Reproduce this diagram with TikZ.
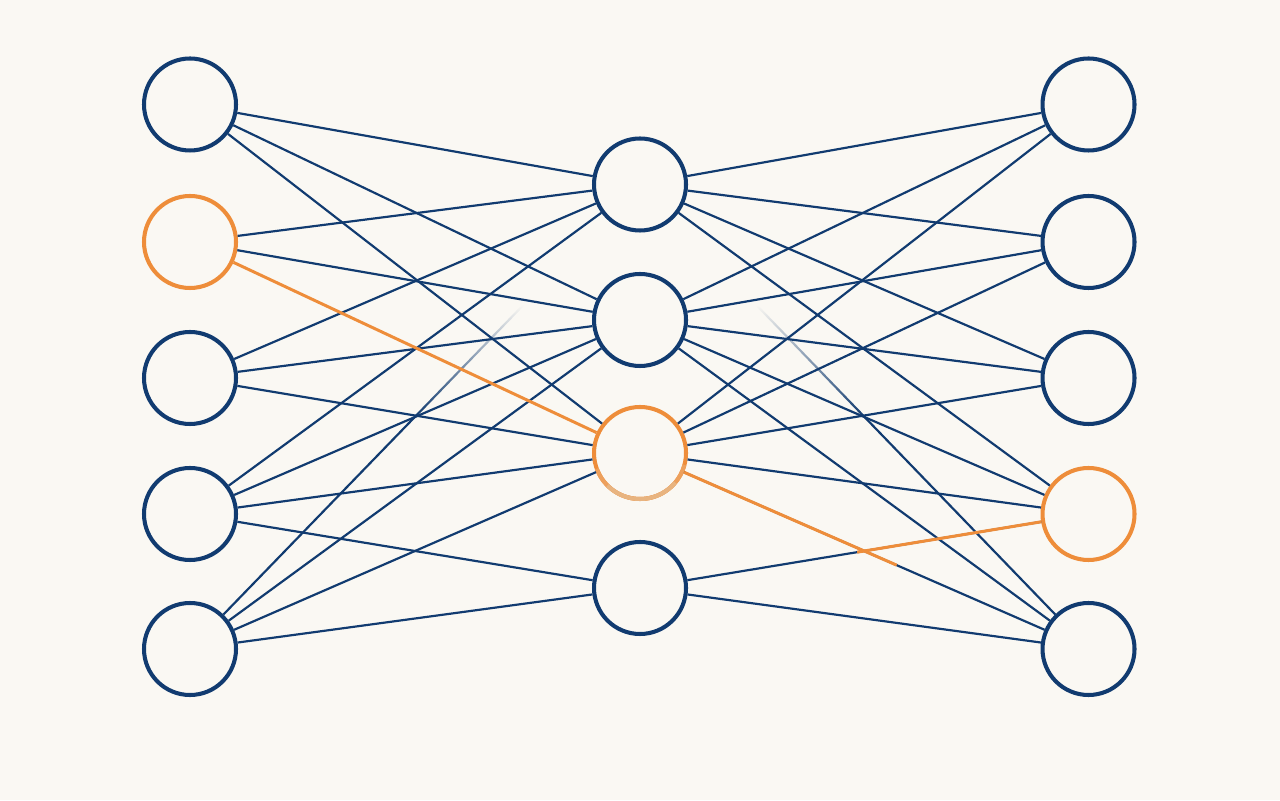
\documentclass[tikz,border=0pt]{standalone}
\usepackage{tikz}
\usetikzlibrary{fadings}
\definecolor{paper}{RGB}{250,248,243}
\definecolor{navy}{RGB}{17,59,112}
\definecolor{flame}{RGB}{238,141,58}
\definecolor{ember}{RGB}{237,160,92}
\definecolor{sand}{RGB}{232,180,128}
\pgfdeclareverticalshading{fadeshade}{100bp}{color(0bp)=(pgftransparent!0); color(50bp)=(pgftransparent!0); color(64bp)=(pgftransparent!100); color(100bp)=(pgftransparent!100)}
\pgfdeclarefading{fadeup}{\pgfuseshading{fadeshade}}

\begin{document}
\begin{tikzpicture}[neuron/.style={circle, draw=navy, line width=1.15pt, fill=paper, minimum size=0.92cm, inner sep=0pt},
                    hotneuron/.style={neuron, draw=flame},
                    link/.style={navy, line width=0.62pt},
                    hot/.style={flame, line width=0.85pt}]
                      \fill[paper] (0,0) rectangle (12.8,8);
                      % input layer
                      \node[neuron] (l1) at (1.90,6.955) {};
                      \node[hotneuron] (l2) at (1.90,5.58) {};
                      \node[neuron] (l3) at (1.90,4.22) {};
                      \node[neuron] (l4) at (1.90,2.86) {};
                      \node[neuron] (l5) at (1.90,1.51) {};
                      % hidden layer
                      \node[neuron] (m1) at (6.40,6.155) {};
                      \node[neuron] (m2) at (6.40,4.80) {};
                      \node[hotneuron] (m3) at (6.40,3.47) {};
                      \node[neuron] (m4) at (6.40,2.12) {};
                      % output layer
                      \node[neuron] (r1) at (10.885,6.955) {};
                      \node[neuron] (r2) at (10.885,5.58) {};
                      \node[neuron] (r3) at (10.885,4.22) {};
                      \node[hotneuron] (r4) at (10.885,2.86) {};
                      \node[neuron] (r5) at (10.885,1.51) {};
                      \draw[ember, line width=1.15pt] ([shift={(200:0.46)}]m3.center) arc[start angle=200, end angle=345, radius=0.46];
                      \draw[sand, line width=1.15pt] ([shift={(225:0.46)}]m3.center) arc[start angle=225, end angle=320, radius=0.46];
                      % weights in
                      \draw[link] (l1) -- (m1) (l1) -- (m2) (l1) -- (m3);
                      \draw[link] (l2) -- (m1) (l2) -- (m2);
                      \draw[link] (l3) -- (m1) (l3) -- (m2) (l3) -- (m3);
                      \draw[link] (l4) -- (m1) (l4) -- (m2) (l4) -- (m3) (l4) -- (m4);
                      \draw[link] (l5) -- (m2) (l5) -- (m3) (l5) -- (m4);
                      \draw[link, path fading=fadeup] (l5) -- (m1);
                      % weights out
                      \draw[link] (m1) -- (r1) (m1) -- (r2) (m1) -- (r3) (m1) -- (r4);
                      \draw[link, path fading=fadeup] (m1) -- (r5);
                      \draw[link] (m2) -- (r1) (m2) -- (r2) (m2) -- (r3) (m2) -- (r4) (m2) -- (r5);
                      \draw[link] (m3) -- (r1) (m3) -- (r2) (m3) -- (r3) (m3) -- (r4) (m3) -- (r5);
                      \draw[link] (m4) -- (r4) (m4) -- (r5);
                      % highlighted path
                      \path (m3) -- (r5) coordinate[pos=0.59] (o1);
                      \path (m4) -- (r4) coordinate[pos=0.48] (o2);
                      \draw[hot] (l2) -- (m3);
                      \draw[hot] (m3) -- (o1);
                      \draw[hot] (o2) -- (r4);
                  \end{tikzpicture}
\end{document}
